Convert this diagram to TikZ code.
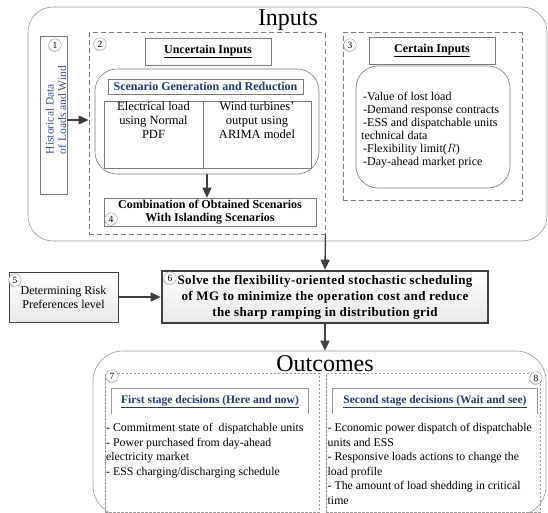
\documentclass[tikz,border=0pt]{standalone}
\usepackage{fontspec}
\setmainfont{Liberation Serif}
\usetikzlibrary{arrows.meta,shadows}
\definecolor{navy}{HTML}{1F3A6E}
\definecolor{histblue}{HTML}{3A4F9A}
\definecolor{arrowgray}{HTML}{404040}
\definecolor{linegray}{HTML}{7A7A7A}
\definecolor{lightline}{HTML}{9A9A9A}
\newcommand\myfs[2]{\fontsize{#1}{#2}\selectfont}
\begin{document}
\begin{tikzpicture}[x=1pt,y=-1pt,
  outerbox/.style={draw=lightline, line width=0.6pt, inner sep=0pt},
  dashbox/.style={draw=linegray, line width=1.0pt, dash pattern=on 5pt off 3pt, inner sep=0pt},
  fdashbox/.style={draw=lightline, line width=0.6pt, dash pattern=on 2.5pt off 1.5pt, inner sep=0pt},
  inbox/.style={draw=linegray, line width=0.6pt, fill=white, inner sep=0pt},
  numc/.style={circle, draw=gray!80, fill=white, inner sep=0pt, minimum size=12.5pt, font=\myfs{9.5}{10},
     drop shadow={opacity=0.25, shadow xshift=-0.8pt, shadow yshift=-0.8pt}},
  arr/.style={draw=arrowgray, line width=1.4pt, -{Triangle[length=10pt,width=9pt]}},
  graybox/.style={draw=arrowgray, top color=white, bottom color=gray!18},
  listtext/.style={align=left, inner sep=0pt, anchor=north west}
]
\useasboundingbox (0,0) rectangle (548,513);

% ---------- Inputs ----------
\node[outerbox, rounded corners=25pt, minimum width=519pt, minimum height=234pt] (inputs) at (287.5,124) {};
\node[font=\myfs{24}{26}, anchor=base, inner sep=0pt] (inputsT) at (288,26) {Inputs};

% box 1
\node[inbox, minimum width=27pt, minimum height=158pt] (hist) at (53.5,115) {};
\node[rotate=90, align=left, text=histblue, inner sep=0pt, font=\myfs{11.5}{12.5}] (histT) at (56,110) {Historical Data\\of Loads and Wind};
\node[numc] (n1) at (55,45) {1};

% box 2 (uncertain)
\node[dashbox, minimum width=236pt, minimum height=201pt] (box2) at (207,133.5) {};
\node[numc] (n2) at (100,44) {2};
\node[inbox, minimum width=126pt, minimum height=27pt, font=\bfseries\myfs{12}{13}] (unc) at (208,51.5) {\underline{Uncertain Inputs}};
\node[outerbox, draw=linegray, rounded corners=22pt, minimum width=224pt, minimum height=105pt] (scen) at (207,121.5) {};
\node[inbox, minimum width=195pt, minimum height=15pt, text=navy, font=\bfseries\myfs{12}{13}] (scenT) at (205.5,86.5) {Scenario Generation and Reduction};
\node[inbox, minimum width=99pt, minimum height=67pt] (cellL) at (153.5,134.5) {};
\node[inbox, minimum width=108pt, minimum height=67pt] (cellR) at (257,134.5) {};
\node[anchor=north, align=center, inner sep=1pt, font=\myfs{12.5}{14}] (cellLT) at (cellL.north) {Electrical load\\using Normal\\PDF};
\node[anchor=north, align=center, inner sep=1pt, font=\myfs{12.5}{14}] (cellRT) at (cellR.north) {Wind turbines’\\output using\\ARIMA model};
\node[inbox, minimum width=212pt, minimum height=28pt, align=center, font=\bfseries\myfs{12}{13.5}] (comb) at (210,212) {Combination of Obtained Scenarios\\With Islanding Scenarios};
\node[numc] (n4) at (111,219) {4};

% box 3 (certain)
\node[dashbox, minimum width=179pt, minimum height=167pt] (box3) at (432.5,116.5) {};
\node[numc] (n3) at (350,45) {3};
\node[inbox, minimum width=126pt, minimum height=27pt, font=\bfseries\myfs{12}{13}] (cert) at (432,50.5) {\underline{Certain Inputs}};
\node[outerbox, draw=linegray, rounded corners=22pt, minimum width=154pt, minimum height=122pt] (certR) at (433,127) {};
\node[anchor=west, align=left, inner sep=0pt, font=\myfs{12}{13}] (certT) at (361,130)
  {\hspace{2pt}-Value of lost load\\\hspace{2pt}-Demand response contracts\\\hspace{2pt}-ESS and dispatchable units\\technical data\\\hspace{2pt}-Flexibility limit($R$)\\\hspace{2pt}-Day-ahead market price};

% arrows in inputs
\draw[arr] ([yshift=-5pt]hist.east) -- ([yshift=-5pt]hist.east -| box2.west);
\draw[arr] (scen.south) -- (scen.south |- comb.north);

% ---------- middle ----------
\node[graybox, line width=0.9pt, minimum width=109pt, minimum height=50pt, align=center, font=\myfs{12}{14}] (risk) at (63.5,297) {Determining Risk\\Preferences level};
\node[numc] (n5) at (15,280) {5};
\node[graybox, line width=2.6pt, minimum width=326pt, minimum height=52pt, align=center,
  font=\bfseries\myfs{13}{16}\addfontfeatures{LetterSpace=3}] (solve) at (325,297)
  {Solve the flexibility-oriented stochastic scheduling\\of MG to minimize the operation cost and reduce\\the sharp ramping in distribution grid};
\node[numc] (n6) at (170,278) {6};

\draw[arr] (box2.south east) -- (solve.north);
\draw[arr] (risk.east) -- (risk.east -| solve.west);

% ---------- Outcomes ----------
\node[outerbox, rounded corners=30pt, minimum width=453pt, minimum height=165pt] (outc) at (319.5,433.5) {};
\node[font=\myfs{24}{26}, anchor=base, inner sep=0pt] (outcT) at (325,371) {Outcomes};
\draw[arr] (solve.south) -- (solve.south |- outc.north);

\node[fdashbox, minimum width=214pt, minimum height=139pt] (box7) at (212,442.5) {};
\node[fdashbox, minimum width=214pt, minimum height=139pt] (box8) at (433,442.5) {};
\node[numc] (n7) at (112,376) {7};
\node[numc] (n8) at (536,378) {8};

\node[inner sep=0pt, minimum width=196pt, minimum height=25pt, text=navy, font=\bfseries\myfs{11.5}{13}] (hdr7) at (210,401.5) {\underline{First stage decisions (Here and now)}};
\draw[draw=lightline, line width=0.7pt] (hdr7.south west) -- (hdr7.north west) -- (hdr7.north east) -- (hdr7.south east);
\node[inner sep=0pt, minimum width=204pt, minimum height=25pt, text=navy, font=\bfseries\myfs{11.5}{13}] (hdr8) at (435,401.5) {\underline{Second stage decisions (Wait and see)}};
\draw[draw=lightline, line width=0.7pt] (hdr8.south west) -- (hdr8.north west) -- (hdr8.north east) -- (hdr8.south east);

\node[listtext, font=\myfs{11.8}{14.5}] (list7) at (106,423)
  {- Commitment state of\ \ dispatchable units\\- Power purchased from day-ahead\\electricity market\\- ESS charging/discharging schedule};
\node[listtext, font=\myfs{11.8}{14.5}] (list8) at (327.5,423)
  {- Economic power dispatch of dispatchable\\units and ESS\\- Responsive loads actions to change the\\load profile\\- The amount of load shedding in critical\\time};
\end{tikzpicture}
\end{document}
